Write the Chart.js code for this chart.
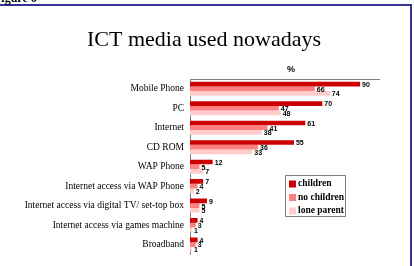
<!DOCTYPE html>
<html>
<head>
<meta charset="utf-8">
<script src="https://cdn.jsdelivr.net/npm/chart.js@4/dist/chart.umd.min.js"></script>
<style>
html,body{margin:0;padding:0;background:#fff;overflow:hidden;}
#wrap{position:absolute;left:0;top:0;width:414px;height:266px;}
</style>
</head>
<body>
<div id="wrap"><canvas id="c" width="414" height="266"></canvas></div>
<script>
const categories = ["Mobile Phone","PC","Internet","CD ROM","WAP Phone","Internet access via WAP Phone","Internet access via digital TV/ set-top box","Internet access via games machine","Broadband"];
const seriesNames = ["children","no children","lone parent"];
const children = [90,70,61,55,12,7,9,4,4];
const noChildren = [66,47,41,36,5,4,5,3,3];
const loneParent = [74,48,38,33,7,2,5,1,1];
const xTicks = [0,100];
const colors = ["#cc0000","#ff8080","#ffcccc"];

const decor = {
  id:'decor',
  beforeDraw(chart){
    const ctx = chart.ctx;
    ctx.save();
    ctx.fillStyle='#fff';
    ctx.fillRect(0,0,chart.width,chart.height);
    ctx.strokeStyle='#33339a';
    ctx.lineWidth=2;
    ctx.strokeRect(-5,5,416,300);
    ctx.fillStyle='#000';
    ctx.font='bold 12px "Liberation Serif"';
    ctx.textBaseline='alphabetic';
    ctx.textAlign='left';
    ctx.fillText('Figure 6',-6,2);
    ctx.font='22px "Liberation Serif"';
    ctx.textAlign='center';
    ctx.fillText('ICT media used nowadays',204,46);
    ctx.font='bold 9px Arial';
    ctx.textBaseline='middle';
    ctx.fillText('%',291,70);
    ctx.restore();
  },
  afterDatasetsDraw(chart){
    const ctx = chart.ctx;
    ctx.save();
    ctx.font='bold 7px Arial';
    ctx.fillStyle='#000';
    ctx.textAlign='left';
    ctx.textBaseline='middle';
    chart.data.datasets.forEach((ds,i)=>{
      const meta = chart.getDatasetMeta(i);
      meta.data.forEach((bar,j)=>{
        ctx.fillText(String(ds.data[j]), bar.x+2, bar.y+1);
      });
    });
    ctx.restore();
  },
  afterDraw(chart){
    const ctx = chart.ctx;
    ctx.save();
    ctx.fillStyle='#fff';
    ctx.fillRect(286,176,60,41);
    ctx.strokeStyle='#808080';
    ctx.lineWidth=1;
    ctx.strokeRect(285.5,175.5,60,41);
    ctx.font='bold 9.5px "Liberation Serif"';
    ctx.textAlign='left';
    ctx.textBaseline='middle';
    const ys=[184,197.5,211];
    seriesNames.forEach((n,i)=>{
      ctx.fillStyle=colors[i];
      ctx.fillRect(289,ys[i]-3.5,7,7);
      ctx.fillStyle='#000';
      ctx.fillText(n,298,ys[i]);
    });
    ctx.restore();
  }
};

new Chart(document.getElementById('c'),{
  type:'bar',
  data:{
    labels:categories,
    datasets:[
      {label:seriesNames[0],data:children,backgroundColor:colors[0]},
      {label:seriesNames[1],data:noChildren,backgroundColor:colors[1]},
      {label:seriesNames[2],data:loneParent,backgroundColor:colors[2]}
    ]
  },
  options:{
    indexAxis:'y',
    responsive:false,
    animation:false,
    events:[],
    datasets:{bar:{categoryPercentage:0.72,barPercentage:1.0,borderWidth:0}},
    layout:{padding:{left:0,top:79,right:35,bottom:6}},
    plugins:{legend:{display:false},title:{display:false},tooltip:{enabled:false}},
    scales:{
      x:{
        position:'top',
        min:xTicks[0],max:xTicks[1],
        ticks:{display:false},
        grid:{display:false,drawTicks:false},
        border:{display:true,color:'#808080',width:1},
        afterFit(s){s.height=0;}
      },
      y:{
        ticks:{color:'#000',font:{family:'"Liberation Serif"',size:9.5},padding:6,autoSkip:false},
        grid:{display:false,drawTicks:false},
        border:{display:true,color:'#808080',width:1},
        afterFit(s){s.width=190;}
      }
    }
  },
  plugins:[decor]
});
</script>
</body>
</html>
